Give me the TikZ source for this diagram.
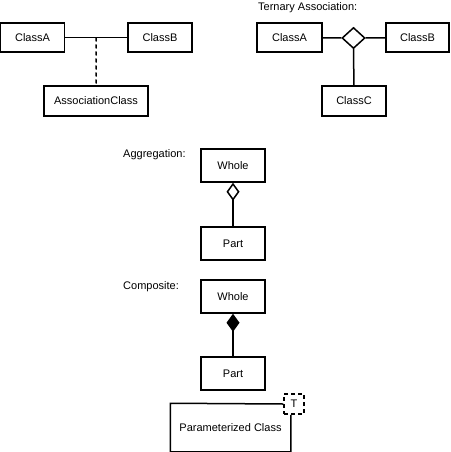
\documentclass[tikz,border=0pt]{standalone}
\usepackage{fontspec}
\setmainfont{Liberation Sans}
\usepackage{tikz}
\usetikzlibrary{
    arrows.meta,
    shapes.geometric,
    calc,
    positioning
}
\tikzset{
    classbox/.style={draw, line width=1.5pt, minimum width=64pt, minimum height=29pt, inner sep=0pt, font=\fontsize{11}{13}\selectfont},
    caption/.style={anchor=west, inner sep=0pt, font=\fontsize{11}{13}\selectfont},
    link/.style={line width=1.5pt}
}

\begin{document}
\begin{tikzpicture}[x=1pt, y=-1pt]
                        \useasboundingbox (0, 0) rectangle (450, 452);

                        % association class
                        \node[classbox] (ca) at (32.5, 37.5) {ClassA};
                        \node[classbox] (cb) at (160, 37.5) {ClassB};
                        \node[classbox, minimum width=104pt, minimum height=30pt] (assoc) at (96, 101) {AssociationClass};
                        \coordinate (mid) at ($(ca.east)!0.5!(cb.west)$);

                        % ternary association
                        \node[caption] (ternlabel) at (258, 8) {Ternary Association:};
                        \node[classbox, minimum width=65pt] (ta) at (289.5, 37.5) {ClassA};
                        \node[draw, diamond, line width=1.5pt, minimum width=23pt, minimum height=21pt, inner sep=0pt] (tern) at (353.5, 38) {};
                        \node[classbox, minimum width=63pt] (tb) at (417.5, 37.5) {ClassB};
                        \node[classbox, minimum height=30pt] (tc) at (354, 101) {ClassC};

                        % aggregation
                        \node[caption] (agglabel) at (123, 155) {Aggregation:};
                        \node[classbox, minimum height=33pt] (whole1) at (233, 165.5) {Whole};
                        \node[classbox, minimum height=33pt] (part1) at (233, 243.5) {Part};

                        % composite
                        \node[caption] (complabel) at (123, 287) {Composite:};
                        \node[classbox, minimum height=33pt] (whole2) at (233, 296.5) {Whole};
                        \node[classbox, minimum height=33pt] (part2) at (233, 373.5) {Part};

                        % parameterized class
                        \node[classbox, draw=none, minimum width=119pt, minimum height=47pt] (param) at (230.5, 427.5) {Parameterized Class};
                        \node[draw, dash pattern=on 4pt off 3pt, line width=1.5pt, minimum width=20pt, minimum height=20pt, inner sep=0pt, font=\fontsize{11}{13}\selectfont] (tparam) at (294, 404) {T};

                        \draw[link]
                        (ca) edge (cb)
                        (mid) edge[dash pattern=on 4pt off 3pt] (assoc)
                        (ta) edge (tern)
                        (tern) edge (tb)
                        (tern) edge (tc)
                        (part1) edge[-{Diamond[open, length=18pt, width=13pt]}] (whole1)
                        (part2) edge[-{Diamond[length=18pt, width=13pt]}] (whole2);

                        \draw[link] (tparam.west) -- (param.north west) -- (param.south west)
                        -- (param.south east) -- (param.east |- tparam.south);
                    \end{tikzpicture}
\end{document}
